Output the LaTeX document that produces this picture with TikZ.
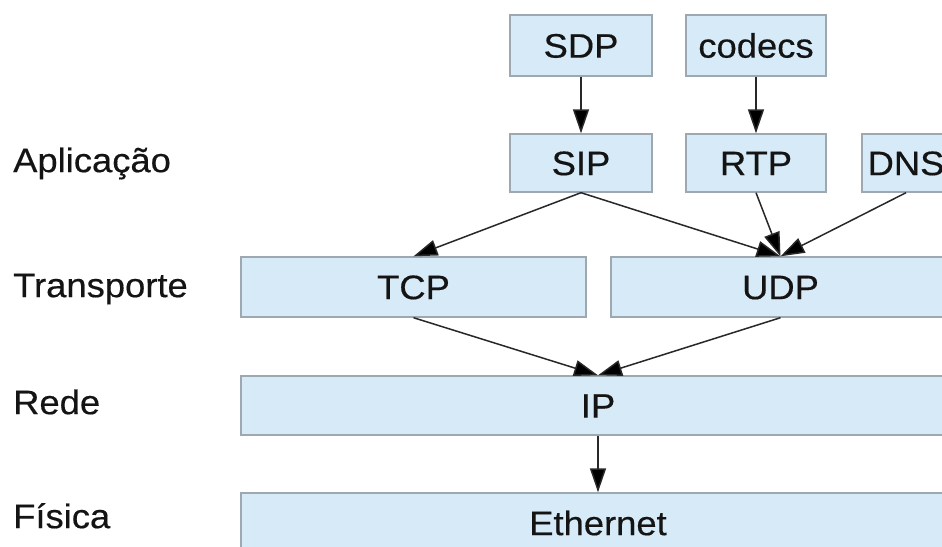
\documentclass[tikz,border=0pt]{standalone}
\usepackage{fontspec}
\setmainfont{Liberation Sans}[FakeStretch=1.07, FakeBold=0.4]
\usetikzlibrary{arrows.meta}
\definecolor{boxfill}{RGB}{214,234,247}
\definecolor{boxline}{RGB}{158,168,176}
\definecolor{inkdark}{RGB}{20,20,20}
\definecolor{wiredark}{RGB}{40,40,40}
\tikzset{
  layerbox/.style={draw=boxline, fill=boxfill, line width=1.4pt, inner sep=0pt,
    text height=24.3pt, text depth=0pt, text=inkdark,
    font=\fontsize{34}{38}\selectfont},
  layerlabel/.style={anchor=west, inner sep=0pt, text height=24.3pt, text depth=0pt,
    text=inkdark, font=\fontsize{34}{38}\selectfont},
  flow/.style={draw=wiredark, line width=1.5pt,
    -{Triangle[length=24pt, width=16pt, fill=black]}}
}
\begin{document}
\begin{tikzpicture}[x=1pt, y=-1pt]
  \useasboundingbox (0,0) rectangle (942,546);
  \fill[white] (0,0) rectangle (942,546);
  \clip (0,0) rectangle (942,546);

  % layer names
  \node[layerlabel] (lapp)  at (13,160) {Aplicação};
  \node[layerlabel] (ltrn)  at (13,285) {Transporte};
  \node[layerlabel] (lnet)  at (13,402) {Rede};
  \node[layerlabel] (lphy)  at (13,516) {Física};

  % protocol boxes
  \node[layerbox, minimum width=142pt, minimum height=61pt] (sdp)    at (581,45.5) {SDP};
  \node[layerbox, minimum width=140pt, minimum height=61pt] (codecs) at (756,45.5) {codecs};
  \node[layerbox, minimum width=142pt, minimum height=58pt] (sip)    at (581,163) {SIP};
  \node[layerbox, minimum width=140pt, minimum height=58pt] (rtp)    at (756,163) {RTP};
  \node[layerbox, minimum width=88pt,  minimum height=58pt] (dns)    at (906,163) {DNS};
  \node[layerbox, minimum width=345pt, minimum height=60pt] (tcp)    at (413.5,287) {TCP};
  \node[layerbox, minimum width=339pt, minimum height=60pt] (udp)    at (780.5,287) {UDP};
  \node[layerbox, minimum width=714pt, minimum height=59pt] (ip)     at (598,405.5) {IP};
  \node[layerbox, minimum width=714pt, minimum height=60pt] (eth)    at (598,523) {Ethernet};

  % dependencies between protocols
  \draw[flow] (sdp.south) -- (sip.north);
  \draw[flow] (codecs.south) -- (rtp.north);
  \draw[flow] (sip.south) -- (tcp.north);
  \draw[flow] (sip.south) -- (udp.north);
  \draw[flow] (rtp.south) -- (udp.north);
  \draw[flow] (dns.south) -- (udp.north);
  \draw[flow] (tcp.south) -- (ip.north);
  \draw[flow] (udp.south) -- (ip.north);
  \draw[flow] (ip.south) -- (eth.north);
\end{tikzpicture}
\end{document}
